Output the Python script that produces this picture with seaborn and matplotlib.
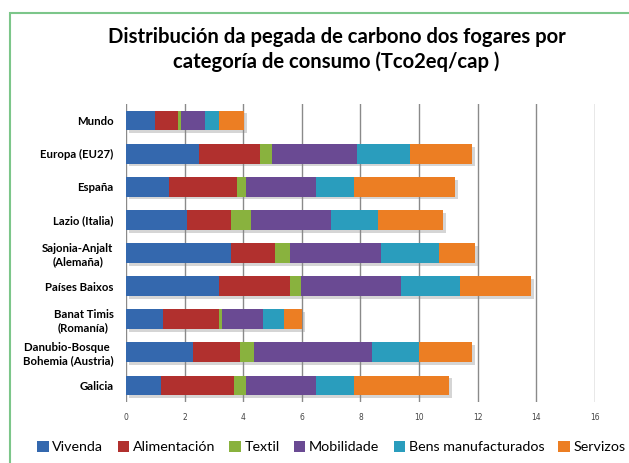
import numpy as np
import matplotlib
matplotlib.use("Agg")
import matplotlib.pyplot as plt
import matplotlib.patheffects as pe
from matplotlib.patches import Patch, Rectangle
import seaborn as sns

# Datos (Tco2eq/cap)
rexions = ["Mundo", "Europa (EU27)", "España", "Lazio (Italia)",
           "Sajonia-Anjalt\n(Alemaña)", "Países Baixos", "Banat Timis\n(Romanía)",
           "Danubio-Bosque \nBohemia (Austria)", "Galicia"]
vivenda = [1.0, 2.5, 1.47, 2.08, 3.58, 3.17, 1.26, 2.29, 1.19]
alimentacion = [0.77, 2.07, 2.32, 1.5, 1.51, 2.43, 1.91, 1.6, 2.5]
textil = [0.1, 0.42, 0.31, 0.69, 0.51, 0.37, 0.1, 0.48, 0.41]
mobilidade = [0.83, 2.9, 2.38, 2.73, 3.1, 3.42, 1.4, 4.03, 2.38]
bens = [0.47, 1.8, 1.3, 1.6, 1.98, 2.01, 0.72, 1.6, 1.3]
servizos = [0.86, 2.13, 3.45, 2.22, 1.23, 2.42, 0.61, 1.81, 3.24]

categorias = ["Vivenda", "Alimentación", "Textil", "Mobilidade",
              "Bens manufacturados", "Servizos"]
cores = ["#3468AE", "#B1302E", "#89B23E", "#6A4A93", "#2A9DBD", "#EC7E23"]
series = [vivenda, alimentacion, textil, mobilidade, bens, servizos]

fig = plt.figure(figsize=(6.29, 4.63), dpi=100)
ax = fig.add_axes([0.2003, 0.1317, 0.7456, 0.6437])

# barras apiladas: acumulados debuxados do maior ao menor
acumulados = np.cumsum(np.array(series), axis=0)
for i in reversed(range(len(series))):
    sns.barplot(x=acumulados[i], y=rexions, order=rexions, orient="h",
                color=cores[i], saturation=1, width=0.6, ax=ax)
    if i == len(series) - 1:
        for p in ax.patches:
            p.set_path_effects([pe.withSimplePatchShadow(offset=(2, -2), shadow_rgbFace="#888888", alpha=0.35)])

ax.set_xlim(0, 16)
ax.set_ylim(8.5, -0.5)
ax.set_xticks(range(0, 17, 2))
ax.xaxis.grid(True, color="#8a8a8a", lw=1)
ax.set_axisbelow(True)
for s in ax.spines.values():
    s.set_visible(False)
ax.set_xlabel("")
ax.set_ylabel("")
ax.tick_params(axis="y", length=0, pad=9)
ax.tick_params(axis="x", length=0, pad=8, labelsize=5.5, labelcolor="#444444")
for lab in ax.get_yticklabels():
    lab.set_fontfamily("Lato")
    lab.set_fontweight("bold")
    lab.set_fontsize(8.2)
    lab.set_multialignment("center")

fig.text(0.535, 0.893, "Distribución da pegada de carbono dos fogares por\ncategoría de consumo (Tco2eq/cap )",
         ha="center", va="center", fontsize=14.6, fontweight="bold", family="Lato", linespacing=1.25)

handles = [Patch(facecolor=c, label=n) for c, n in zip(cores, categorias)]
fig.legend(handles=handles, loc="center", bbox_to_anchor=(0.527, 0.034), ncol=6, frameon=False,
           prop={"family": "Lato", "size": 10.3}, handlelength=0.8, handleheight=0.8,
           handletextpad=0.25, columnspacing=1.0)

# bordo verde
fig.patches.append(Rectangle((9.5 / 629, -0.1), 1.1, 1.1 - 13.5 / 463, transform=fig.transFigure,
                             fill=False, edgecolor="#7CC68A", lw=1.5))

fig.savefig("out.png", dpi=100)
